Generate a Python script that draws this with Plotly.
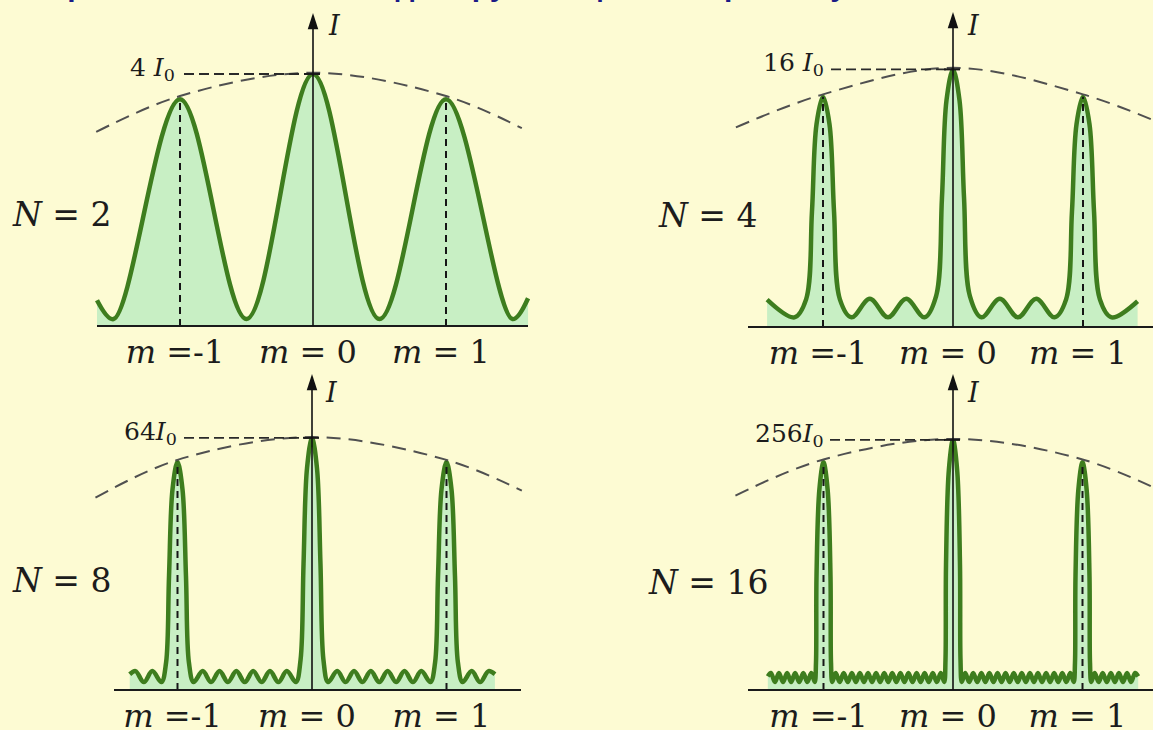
import plotly.graph_objects as go

W, H = 1153, 730
BG = "#fdfbd3"
GREEN = "#3e7d1e"
FILL = "#c8efc4"
INK = "#161616"
SERIF = "DejaVu Serif"

# Intensity readings in units of I0, positions in diffraction orders m.

# N = 2
N2_PEAK_M = [-1, 0, 1]
N2_PEAK_I = [3.6, 4.0, 3.6]
N2_MIN_X = [-1.5, -0.5, 0.5, 1.5]
N2_MIN_I = 0.11
N2_MAX_X = []
N2_MAX_I = 0.0
N2_END_X = [-1.624, 1.617]
N2_END_I = [0.41, 0.44]
N2_PROFILE_FRAC = []
N2_PROFILE_HW = []
N2_ENV_X = [-1.63, -1.0, 0.0, 1.0, 1.57]
N2_ENV_I = [3.08, 3.65, 4.02, 3.65, 3.14]

# N = 4
N4_PEAK_M = [-1, 0, 1]
N4_PEAK_I = [14.3, 16.0, 14.3]
N4_MIN_X = [-1.22, -0.78, -0.5, -0.22, 0.22, 0.5, 0.78, 1.22]
N4_MIN_I = 0.6
N4_MAX_X = [-0.64, -0.36, 0.36, 0.64]
N4_MAX_I = 1.75
N4_END_X = [-1.43, 1.42]
N4_END_I = [1.7, 1.6]
N4_PROFILE_FRAC = [0.12, 0.5, 0.88]
N4_PROFILE_HW = [0.13, 0.085, 0.05]
N4_ENV_X = [-1.67, -1.0, 0.0, 1.0, 1.67]
N4_ENV_I = [12.4, 14.45, 16.1, 14.45, 12.4]

# N = 8
N8_PEAK_M = [-1, 0, 1]
N8_PEAK_I = [57.9, 64.0, 57.9]
N8_MIN_X = [-1.25, -1.12, -0.88, -0.75, -0.625, -0.5, -0.375, -0.25, -0.12,
            0.12, 0.25, 0.375, 0.5, 0.625, 0.75, 0.88, 1.12, 1.25]
N8_MIN_I = 2.0
N8_MAX_X = [-1.3125, -1.1875, -0.8125, -0.6875, -0.5625, -0.4375, -0.3125, -0.1875,
            0.1875, 0.3125, 0.4375, 0.5625, 0.6875, 0.8125, 1.1875, 1.3125]
N8_MAX_I = 4.8
N8_END_X = [-1.355, 1.36]
N8_END_I = [4.0, 4.0]
N8_PROFILE_FRAC = [0.12, 0.5, 0.88]
N8_PROFILE_HW = [0.085, 0.063, 0.037]
N8_ENV_X = [-1.61, -1.0, 0.0, 1.0, 1.56]
N8_ENV_I = [48.8, 58.4, 64.2, 58.4, 50.6]

# N = 16
N16_PEAK_M = [-1, 0, 1]
N16_PEAK_I = [233.0, 256.0, 233.0]
N16_MIN_X = [-1.375, -1.3125, -1.25, -1.1875, -1.125, -1.068,
             -0.932, -0.875, -0.8125, -0.75, -0.6875, -0.625, -0.5625, -0.5,
             -0.4375, -0.375, -0.3125, -0.25, -0.1875, -0.125, -0.068,
             0.068, 0.125, 0.1875, 0.25, 0.3125, 0.375, 0.4375, 0.5,
             0.5625, 0.625, 0.6875, 0.75, 0.8125, 0.875, 0.932,
             1.068, 1.125, 1.1875, 1.25, 1.3125, 1.375]
N16_MIN_I = 8.2
N16_MAX_X = [-1.406, -1.344, -1.281, -1.219, -1.156, -1.094,
             -0.906, -0.844, -0.781, -0.719, -0.656, -0.594, -0.531,
             -0.469, -0.406, -0.344, -0.281, -0.219, -0.156, -0.094,
             0.094, 0.156, 0.219, 0.281, 0.344, 0.406, 0.469,
             0.531, 0.594, 0.656, 0.719, 0.781, 0.844, 0.906,
             1.094, 1.156, 1.219, 1.281, 1.344, 1.406]
N16_MAX_I = 17.4
N16_END_X = [-1.43, 1.43]
N16_END_I = [14.0, 14.0]
N16_PROFILE_FRAC = [0.12, 0.5, 0.88]
N16_PROFILE_HW = [0.058, 0.054, 0.032]
N16_ENV_X = [-1.68, -1.0, 0.0, 1.0, 1.68]
N16_ENV_I = [199.0, 236.0, 257.0, 236.0, 199.0]

TICK_M = [-1, 0, 1]
TICK_TEXT = ["<i>m</i> =-1", "<i>m</i> = 0", "<i>m</i> = 1"]
PEAK_LABELS = ["4 <i>I</i><sub>0</sub>", "16 <i>I</i><sub>0</sub>",
               "64<i>I</i><sub>0</sub>", "256<i>I</i><sub>0</sub>"]
N_LABELS = ["<i>N</i> = 2", "<i>N</i> = 4", "<i>N</i> = 8", "<i>N</i> = 16"]
TITLE = "Картина интенсивности для группы щелей на решётку"


def build_curve(peak_m, peak_i, frac, hw, min_x, min_i, max_x, max_i, end_x, end_i):
    pts = [(x, min_i) for x in min_x] + [(x, max_i) for x in max_x]
    pts += list(zip(end_x, end_i))
    for m, p in zip(peak_m, peak_i):
        pts.append((m, p))
        for f, w in zip(frac, hw):
            pts += [(m - w, f * p), (m + w, f * p)]
    pts.sort()
    return [a for a, _ in pts], [b for _, b in pts]


DATA = [
    (N2_PEAK_M, N2_PEAK_I, N2_PROFILE_FRAC, N2_PROFILE_HW, N2_MIN_X, N2_MIN_I,
     N2_MAX_X, N2_MAX_I, N2_END_X, N2_END_I, N2_ENV_X, N2_ENV_I),
    (N4_PEAK_M, N4_PEAK_I, N4_PROFILE_FRAC, N4_PROFILE_HW, N4_MIN_X, N4_MIN_I,
     N4_MAX_X, N4_MAX_I, N4_END_X, N4_END_I, N4_ENV_X, N4_ENV_I),
    (N8_PEAK_M, N8_PEAK_I, N8_PROFILE_FRAC, N8_PROFILE_HW, N8_MIN_X, N8_MIN_I,
     N8_MAX_X, N8_MAX_I, N8_END_X, N8_END_I, N8_ENV_X, N8_ENV_I),
    (N16_PEAK_M, N16_PEAK_I, N16_PROFILE_FRAC, N16_PROFILE_HW, N16_MIN_X, N16_MIN_I,
     N16_MAX_X, N16_MAX_I, N16_END_X, N16_END_I, N16_ENV_X, N16_ENV_I),
]

# Panel geometry in page pixels: centre of m = 0, pixels per order, axis line y,
# pixels per I0, plot box, arrow tip, label anchors.
PANELS = [
    dict(cx=313, u=133.0, ya=326, v=63.0, x0=40, x1=600, top=8, span=(97, 528),
         tip=13, ilab=(326, 25), nlab=(10, 214), plab=177, ref0=184),
    dict(cx=953, u=130.0, ya=327, v=16.1, x0=620, x1=1153, top=4, span=(748, 1153),
         tip=12, ilab=(965, 26), nlab=(656, 215), plab=826, ref0=831),
    dict(cx=312, u=134.5, ya=690, v=3.94, x0=40, x1=600, top=368, span=(114, 521),
         tip=374, ilab=(323, 392), nlab=(10, 580), plab=179, ref0=184),
    dict(cx=953, u=129.5, ya=690, v=0.977, x0=620, x1=1153, top=368, span=(748, 1153),
         tip=374, ilab=(965, 392), nlab=(646, 582), plab=826, ref0=830),
]


def px(x):
    return x / W


def py(y):
    return 1 - y / H


fig = go.Figure()
annotations = []
layout_axes = {}

for k, (pan, d) in enumerate(zip(PANELS, DATA)):
    (pm, pi, pf, phw, mnx, mni, mxx, mxi, ex, ei, envx, envi) = d
    sfx = "" if k == 0 else str(k + 1)
    xa, ya_ = "x" + sfx, "y" + sfx
    cx, u, yax, v = pan["cx"], pan["u"], pan["ya"], pan["v"]
    pad = 3
    to_x = lambda p: (p - cx) / u
    to_y = lambda p: (yax - p) / v

    layout_axes["xaxis" + sfx] = dict(
        domain=[px(pan["x0"]), px(pan["x1"])],
        range=[to_x(pan["x0"]), to_x(pan["x1"])],
        anchor=ya_, showgrid=False, zeroline=False, showline=False, ticks="",
        tickmode="array", tickvals=TICK_M, ticktext=TICK_TEXT,
        tickfont=dict(family=SERIF, size=32, color="#1c1c1c"),
        ticklabelstandoff=1, ticklabelshift=-5, fixedrange=True, automargin=False,
    )
    layout_axes["yaxis" + sfx] = dict(
        domain=[py(yax + pad), py(pan["top"])],
        range=[-pad / v, to_y(pan["top"])],
        anchor=xa, visible=False, fixedrange=True, automargin=False,
    )

    cxs, cys = build_curve(pm, pi, pf, phw, mnx, mni, mxx, mxi, ex, ei)
    fig.add_trace(go.Scatter(
        x=cxs, y=cys, xaxis=xa, yaxis=ya_, mode="lines",
        line=dict(color=GREEN, width=4.5, shape="spline", smoothing=1.0),
        fill="tozeroy", fillcolor=FILL, hoverinfo="skip",
    ))

    # dashed verticals at the first orders
    fig.add_trace(go.Scatter(
        x=[pm[0], pm[0], None, pm[2], pm[2]], y=[0, pi[0], None, 0, pi[2]],
        xaxis=xa, yaxis=ya_, mode="lines",
        line=dict(color=INK, width=2, dash="7px,5px"), hoverinfo="skip",
    ))

    # single-slit envelope
    fig.add_trace(go.Scatter(
        x=envx, y=envi, xaxis=xa, yaxis=ya_, mode="lines",
        line=dict(color="#505050", width=2, dash="14px,8px", shape="spline"),
        hoverinfo="skip",
    ))

    # reference level of the central maximum
    top_i = pi[1]
    fig.add_trace(go.Scatter(
        x=[to_x(pan["ref0"]), 0], y=[top_i, top_i], xaxis=xa, yaxis=ya_,
        mode="lines", line=dict(color="#2a2a2a", width=1.8, dash="10px,5px"),
        hoverinfo="skip",
    ))
    fig.add_trace(go.Scatter(
        x=[to_x(cx - 9), to_x(cx + 7)], y=[top_i, top_i], xaxis=xa, yaxis=ya_,
        mode="lines", line=dict(color="#1a1a1a", width=2), hoverinfo="skip",
    ))

    # horizontal axis
    fig.add_trace(go.Scatter(
        x=[to_x(pan["span"][0]), to_x(pan["span"][1])], y=[0, 0],
        xaxis=xa, yaxis=ya_, mode="lines",
        line=dict(color="#1a1a1a", width=2.2), hoverinfo="skip",
    ))

    # intensity axis with arrow head
    tip_i = to_y(pan["tip"])
    fig.add_trace(go.Scatter(
        x=[0, 0], y=[0, to_y(pan["tip"] + 10)], xaxis=xa, yaxis=ya_, mode="lines",
        line=dict(color="#111111", width=1.6), hoverinfo="skip",
    ))
    fig.add_trace(go.Scatter(
        x=[0], y=[tip_i], xaxis=xa, yaxis=ya_, mode="markers",
        marker=dict(symbol="arrow", size=17, color="#111111", line=dict(width=0)),
        cliponaxis=False, hoverinfo="skip",
    ))

    annotations.append(dict(
        x=px(pan["ilab"][0]), y=py(pan["ilab"][1]), xref="paper", yref="paper",
        xanchor="left", yanchor="middle", text="<i>I</i>", showarrow=False,
        font=dict(family=SERIF, size=27, color="#1c1c1c"),
    ))
    annotations.append(dict(
        x=px(pan["nlab"][0]), y=py(pan["nlab"][1]), xref="paper", yref="paper",
        xanchor="left", yanchor="middle", text=N_LABELS[k], showarrow=False,
        font=dict(family=SERIF, size=33, color="#1c1c1c"),
    ))
    line_y = yax - top_i * v
    annotations.append(dict(
        x=px(pan["plab"]), y=py(line_y - 5), xref="paper", yref="paper",
        xanchor="right", yanchor="middle", text=PEAK_LABELS[k], showarrow=False,
        font=dict(family=SERIF, size=25, color="#1c1c1c"),
    ))

annotations.append(dict(
    x=px(30), y=py(4), xref="paper", yref="paper", xanchor="left", yanchor="bottom",
    text="<b>" + TITLE + "</b>", showarrow=False,
    font=dict(family="Liberation Sans", size=30, color="#1b1b86"),
))

fig.update_layout(
    width=W, height=H, margin=dict(l=0, r=0, t=0, b=0, autoexpand=False),
    paper_bgcolor=BG, plot_bgcolor="rgba(0,0,0,0)", showlegend=False,
    annotations=annotations, **layout_axes,
)

fig.write_html("out.html", config={"displayModeBar": False})
